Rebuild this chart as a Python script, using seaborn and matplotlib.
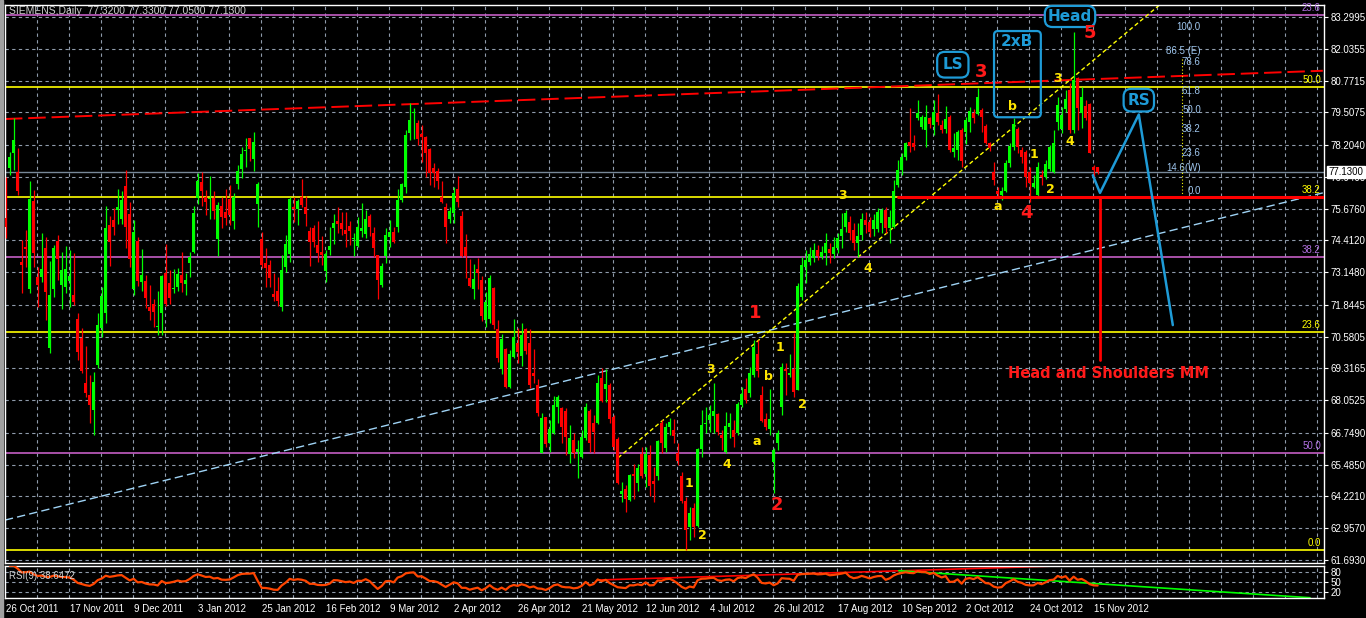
import numpy as np
import pandas as pd
import matplotlib
matplotlib.use('Agg')
import matplotlib.pyplot as plt
import seaborn as sns
from matplotlib.patches import FancyBboxPatch, Rectangle

# ── 1. Daily candles (SIEMENS, 26 Oct 2011 .. 16 Nov 2012) ──
opens = np.array([
    75.30, 77.30, 77.90, 77.14, 73.56, 74.14, 72.48, 75.98, 72.96, 72.96,
    74.10, 70.12, 72.48, 74.38, 72.64, 72.56, 72.80, 72.24, 71.28, 70.52,
    68.74, 68.26, 67.66, 69.46, 70.92, 71.52, 75.02, 75.22, 75.62, 75.26,
    76.58, 75.46, 72.48, 74.38, 72.76, 72.80, 71.76, 71.88, 70.96, 71.52,
    73.12, 72.72, 72.48, 72.56, 73.04, 72.68, 73.52, 73.96, 76.10, 76.74,
    76.14, 76.06, 76.10, 74.46, 75.78, 75.54, 76.06, 75.18, 76.66, 77.26,
    77.98, 78.48, 77.66, 75.86, 74.46, 73.52, 73.44, 72.28, 72.40, 71.76,
    73.36, 73.88, 75.74, 75.66, 76.14, 75.74, 74.78, 74.90, 74.22, 73.96,
    73.20, 74.02, 74.90, 75.18, 75.10, 74.82, 74.98, 74.46, 74.18, 74.78,
    74.66, 75.38, 74.70, 73.84, 72.64, 73.80, 74.54, 74.74, 74.94, 76.02,
    76.54, 78.68, 79.48, 79.08, 78.64, 78.52, 78.04, 77.30, 77.18, 76.14,
    75.74, 75.26, 75.50, 76.46, 75.38, 74.14, 72.92, 72.48, 73.28, 72.84,
    71.24, 71.28, 72.52, 70.88, 69.30, 70.08, 68.58, 69.78, 70.32, 69.82,
    70.88, 70.32, 69.14, 68.66, 65.96, 67.38, 66.34, 66.74, 67.78, 67.74,
    67.62, 65.92, 66.46, 66.00, 65.80, 66.54, 67.62, 67.14, 67.14, 68.94,
    68.50, 68.66, 67.38, 66.50, 64.32, 64.52, 64.08, 65.12, 64.76, 65.92,
    65.12, 65.88, 64.84, 65.04, 67.14, 66.14, 66.98, 66.86, 65.96, 65.04,
    64.04, 63.00, 63.76, 63.04, 66.12, 67.10, 67.26, 67.42, 67.50, 66.66,
    66.00, 66.98, 66.86, 66.74, 67.86, 68.50, 68.34, 69.06, 69.90, 68.26,
    67.30, 66.90, 65.60, 66.34, 67.78, 69.30, 69.06, 69.30, 68.46, 72.16,
    73.36, 73.56, 73.72, 74.04, 73.76, 73.92, 74.06, 73.88, 74.10, 74.58,
    74.94, 75.14, 74.82, 74.30, 74.62, 75.22, 75.14, 74.86, 74.86, 75.10,
    75.62, 74.90, 74.94, 76.62, 77.22, 77.74, 78.32, 78.28, 79.28, 78.92,
    78.80, 79.28, 79.00, 79.48, 79.00, 78.84, 79.32, 77.94, 78.02, 78.80,
    78.72, 79.12, 79.48, 79.44, 79.60, 78.96, 78.28, 77.14, 76.38, 76.22,
    76.38, 77.50, 78.12, 78.84, 78.00, 77.94, 77.14, 76.54, 76.22, 77.02,
    76.94, 77.26, 77.14, 79.12, 78.84, 79.64, 80.40, 78.80, 80.88, 79.48,
    79.76, 79.84, 77.34, 77.32])

highs = np.array([
    76.94, 77.94, 79.28, 78.08, 74.42, 74.82, 76.78, 76.42, 73.36, 74.70,
    74.54, 73.60, 74.22, 74.62, 73.96, 74.18, 74.04, 73.92, 71.52, 70.92,
    70.20, 69.06, 69.18, 71.52, 72.56, 75.78, 75.38, 75.70, 76.46, 76.38,
    77.22, 75.94, 75.22, 74.54, 74.06, 73.04, 72.64, 72.08, 72.40, 73.04,
    74.26, 73.24, 73.28, 73.32, 73.96, 73.12, 73.96, 75.78, 77.10, 77.14,
    76.42, 76.98, 76.38, 75.94, 76.14, 76.46, 76.62, 76.30, 77.42, 78.12,
    78.48, 78.48, 78.72, 76.74, 74.74, 74.10, 73.64, 73.12, 72.96, 73.84,
    74.62, 76.14, 76.14, 76.06, 76.86, 76.18, 74.94, 75.02, 75.18, 74.58,
    74.04, 74.94, 75.46, 75.74, 75.54, 75.54, 75.18, 74.70, 75.34, 75.90,
    75.62, 75.46, 74.94, 73.84, 73.52, 74.90, 75.22, 74.94, 76.46, 76.70,
    78.80, 79.88, 79.68, 79.20, 79.00, 78.56, 78.08, 77.50, 77.30, 76.78,
    75.90, 75.74, 76.54, 76.98, 75.58, 74.66, 73.68, 73.48, 73.72, 73.00,
    72.36, 73.04, 72.56, 71.24, 70.68, 70.12, 70.06, 71.28, 70.92, 71.12,
    70.92, 70.88, 70.08, 68.90, 67.54, 67.38, 67.26, 68.22, 68.26, 67.78,
    67.74, 67.06, 66.74, 66.46, 66.86, 67.94, 67.70, 67.46, 69.06, 69.34,
    69.30, 68.74, 67.46, 66.58, 64.80, 64.68, 65.12, 65.52, 65.52, 66.18,
    66.18, 66.26, 65.40, 66.46, 67.26, 67.14, 67.34, 67.30, 66.34, 65.20,
    64.20, 63.80, 63.96, 66.16, 67.66, 67.78, 67.86, 68.74, 67.54, 66.86,
    67.58, 67.54, 67.26, 67.98, 68.58, 68.94, 69.38, 70.44, 70.44, 68.62,
    67.54, 68.50, 66.16, 66.86, 69.54, 69.54, 69.90, 70.72, 72.72, 73.76,
    74.04, 74.16, 74.32, 74.24, 74.20, 74.70, 74.30, 74.54, 74.70, 75.50,
    75.62, 75.38, 75.10, 75.10, 75.50, 75.54, 75.34, 75.46, 75.70, 75.70,
    75.74, 75.62, 76.82, 77.62, 77.90, 78.32, 79.68, 78.60, 80.00, 79.40,
    79.80, 79.32, 80.00, 80.24, 79.20, 79.76, 79.40, 78.68, 78.80, 78.88,
    79.32, 79.72, 79.64, 80.48, 79.68, 79.04, 78.32, 77.54, 76.54, 76.54,
    77.62, 78.28, 79.28, 78.92, 78.12, 78.00, 77.34, 77.02, 77.54, 77.22,
    77.62, 78.20, 78.80, 80.12, 79.72, 80.40, 80.68, 82.72, 80.92, 80.52,
    80.00, 79.88, 77.42, 77.33])

lows = np.array([
    74.50, 77.02, 77.22, 76.22, 72.32, 73.36, 72.32, 73.36, 71.76, 72.76,
    71.24, 69.94, 72.16, 72.84, 71.68, 72.32, 71.76, 71.84, 69.66, 69.14,
    68.18, 67.14, 66.66, 69.34, 70.56, 71.12, 73.40, 74.62, 75.06, 75.06,
    74.10, 73.36, 72.24, 72.60, 72.40, 71.72, 71.24, 70.96, 70.64, 70.64,
    71.80, 71.88, 72.32, 72.40, 72.36, 72.24, 72.96, 73.92, 75.86, 75.78,
    75.42, 75.26, 75.26, 73.80, 74.90, 75.02, 75.02, 74.86, 76.46, 76.90,
    77.34, 77.58, 77.18, 74.94, 73.32, 72.56, 72.56, 72.00, 71.80, 71.60,
    73.16, 73.56, 75.14, 75.02, 75.74, 74.98, 73.40, 74.14, 73.56, 73.44,
    72.76, 73.84, 74.26, 74.70, 74.62, 74.14, 74.22, 73.80, 74.14, 74.54,
    74.50, 74.58, 73.76, 72.08, 72.56, 73.52, 74.14, 74.30, 74.74, 75.94,
    76.30, 78.40, 78.44, 78.20, 77.54, 76.94, 76.62, 76.54, 76.46, 75.90,
    74.30, 75.10, 75.10, 75.74, 73.76, 72.92, 72.56, 72.08, 72.48, 71.20,
    70.96, 71.12, 70.88, 69.58, 69.10, 68.54, 68.54, 69.74, 69.54, 69.42,
    69.90, 68.54, 68.74, 67.42, 65.96, 66.18, 65.98, 66.70, 67.14, 66.34,
    65.88, 65.56, 65.76, 64.96, 65.76, 66.46, 66.00, 65.96, 67.10, 67.98,
    67.98, 67.14, 66.08, 64.72, 64.00, 63.60, 64.04, 64.12, 64.44, 64.96,
    64.60, 64.24, 64.00, 64.88, 65.96, 66.00, 66.66, 66.34, 65.48, 63.96,
    62.08, 62.48, 62.60, 63.00, 65.80, 66.74, 66.78, 66.74, 66.66, 66.06,
    65.96, 66.54, 66.18, 66.66, 67.78, 67.94, 68.18, 68.98, 68.98, 67.18,
    66.86, 66.66, 64.36, 66.08, 67.46, 68.26, 68.98, 68.18, 68.46, 72.04,
    72.72, 73.44, 73.56, 73.64, 73.68, 73.44, 73.52, 73.72, 73.92, 74.10,
    74.74, 74.42, 74.02, 73.76, 74.42, 74.70, 74.54, 74.58, 74.74, 74.70,
    74.70, 74.30, 74.90, 76.54, 77.02, 77.62, 77.94, 78.00, 79.20, 78.84,
    78.12, 78.88, 78.60, 79.00, 78.68, 78.68, 77.94, 77.74, 77.62, 77.34,
    78.24, 78.72, 79.08, 79.40, 78.72, 78.24, 77.98, 76.62, 76.18, 76.02,
    76.34, 77.34, 78.00, 77.90, 77.50, 76.54, 75.94, 76.50, 76.14, 76.62,
    76.86, 77.18, 77.10, 78.80, 78.68, 79.52, 78.68, 78.68, 78.80, 78.88,
    79.20, 77.88, 76.94, 77.05])

closes = np.array([
    74.94, 77.74, 78.40, 76.38, 73.44, 74.06, 76.06, 73.92, 72.64, 73.28,
    72.36, 72.24, 74.10, 73.68, 73.24, 73.28, 73.00, 71.96, 69.98, 69.22,
    68.34, 67.86, 68.78, 71.04, 72.20, 74.90, 74.34, 74.94, 75.74, 76.02,
    74.94, 73.68, 74.74, 72.80, 73.04, 72.12, 71.60, 71.56, 71.00, 73.00,
    71.88, 72.12, 72.52, 73.08, 72.72, 72.84, 73.76, 75.50, 76.78, 76.38,
    75.94, 76.10, 75.58, 75.82, 75.34, 75.30, 75.42, 76.14, 77.18, 77.86,
    78.02, 78.04, 78.32, 76.66, 73.44, 73.32, 72.92, 72.16, 72.00, 73.24,
    74.26, 76.06, 75.66, 75.98, 75.82, 75.46, 74.34, 74.34, 73.92, 73.84,
    73.88, 74.18, 75.10, 75.06, 74.86, 74.66, 74.78, 74.50, 74.94, 74.90,
    75.26, 74.94, 74.10, 72.84, 73.40, 74.62, 74.74, 74.34, 76.02, 76.66,
    78.60, 79.20, 79.52, 78.44, 78.52, 77.90, 77.10, 77.10, 76.78, 75.94,
    74.94, 75.58, 76.30, 75.94, 73.80, 73.80, 72.60, 72.88, 73.12, 71.40,
    71.96, 72.92, 71.04, 69.74, 70.48, 68.58, 69.90, 70.56, 69.98, 70.64,
    70.00, 68.66, 69.02, 67.54, 67.34, 66.30, 66.90, 67.86, 68.18, 66.98,
    66.58, 66.54, 65.96, 66.10, 66.58, 67.78, 66.34, 66.78, 68.74, 68.02,
    68.70, 67.30, 66.18, 64.76, 64.44, 64.12, 65.08, 65.04, 65.36, 65.04,
    65.92, 64.64, 64.72, 66.42, 66.34, 66.98, 67.18, 66.62, 65.64, 64.04,
    62.88, 63.56, 63.00, 66.12, 67.06, 67.14, 67.46, 67.62, 66.78, 66.54,
    67.02, 67.14, 66.58, 67.90, 68.30, 68.06, 69.14, 70.16, 69.22, 67.22,
    66.98, 67.30, 66.08, 66.74, 69.38, 69.22, 69.14, 68.38, 72.60, 73.44,
    73.64, 73.88, 74.04, 73.80, 73.96, 74.30, 73.92, 74.14, 74.50, 74.86,
    75.50, 74.70, 74.30, 74.58, 75.26, 75.02, 74.74, 75.22, 75.54, 75.62,
    74.90, 75.34, 76.38, 77.22, 77.74, 78.28, 78.16, 78.12, 79.48, 79.32,
    79.32, 79.04, 79.52, 79.12, 78.80, 79.24, 78.02, 78.10, 78.72, 77.58,
    79.20, 79.56, 79.28, 80.12, 79.32, 78.28, 78.10, 76.82, 76.26, 76.38,
    77.50, 78.16, 79.04, 78.14, 77.74, 76.94, 76.70, 76.70, 77.34, 76.94,
    77.46, 78.12, 78.28, 79.80, 79.40, 80.04, 78.80, 80.80, 79.68, 80.12,
    79.28, 77.90, 77.22, 77.13])

date_labels = ['26 Oct 2011', '17 Nov 2011', '9 Dec 2011', '3 Jan 2012', '25 Jan 2012',
               '16 Feb 2012', '9 Mar 2012', '2 Apr 2012', '26 Apr 2012', '21 May 2012',
               '12 Jun 2012', '4 Jul 2012', '26 Jul 2012', '17 Aug 2012', '10 Sep 2012',
               '2 Oct 2012', '24 Oct 2012', '15 Nov 2012']
price_ticks = [83.2995, 82.0355, 80.7715, 79.5075, 78.2040, 76.9400, 75.6760, 74.4120,
               73.1480, 71.8445, 70.5805, 69.3165, 68.0525, 66.7490, 65.4850, 64.2210,
               62.9570, 61.6930]
rsi_levels = [80, 50, 20]

# fibonacci retracements drawn on the chart
fib_purple = [83.38, 73.76, 65.96]
fib_purple_lbl = ['23.6', '38.2', '50.0']
fib_yellow = [80.52, 76.14, 70.76, 62.08]
fib_yellow_lbl = ['50.0', '38.2', '23.6', '0.0']
fibx_lbl = ['100.0', '86.5 (E)', '78.6', '61.8', '50.0', '38.2', '23.6', '14.6(W)', '0.0']
fibx_val = [82.92, 81.96, 81.52, 80.36, 79.60, 78.84, 77.90, 77.30, 76.38]

# ── 2. Style / figure ──────────────────────────────────────
sns.set_style('dark', {'axes.facecolor': 'black', 'figure.facecolor': 'black'})
plt.rcParams['font.family'] = ['Liberation Sans', 'DejaVu Sans']

W, H = 1366, 618
fig = plt.figure(figsize=(W / 100, H / 100), dpi=100)
fig.patch.set_facecolor('black')


def px_axes(x0, y0, x1, y1):
    return fig.add_axes([x0 / W, 1 - y1 / H, (x1 - x0) / W, (y1 - y0) / H])


ax = px_axes(5, 5, 1324, 563.3)
axr = px_axes(5, 565.7, 1324, 598.3)
fig.patches.append(Rectangle((0, 0), 3 / W, 1, transform=fig.transFigure,
                             color='#a0a0a0', zorder=0))

grid_c = '#8f9bab'
blue = '#1e9bd7'
n = len(closes)
idx = np.arange(n)
xlim = (-0.175, 329.6)

for a in (ax, axr):
    a.set_facecolor('black')
    for s in a.spines.values():
        s.set_color('white')
        s.set_linewidth(1)
    for b in range(8, 330, 8):
        a.axvline(b - 0.1, color=grid_c, lw=0.8, ls=(0, (3, 3)), zorder=0)
    a.set_xlim(*xlim)

# ── 3. Price panel ─────────────────────────────────────────
for v in price_ticks:
    ax.axhline(v, color=grid_c, lw=0.8, ls=(0, (3, 3)), zorder=0)

for v, t in zip(fib_purple, fib_purple_lbl):
    ax.axhline(v, color='#c45ec4', lw=1.2, zorder=1)
    ax.text(328.8, v + 0.08, t, color='#b070e0', fontsize=7, ha='right', va='bottom')
for v, t in zip(fib_yellow, fib_yellow_lbl):
    ax.axhline(v, color='#ffff00', lw=1.2, zorder=1)
    ax.text(328.8, v + 0.08, t, color='#ffff00', fontsize=7, ha='right', va='bottom')
ax.axhline(closes[-1], color='#778899', lw=1, zorder=1)

# trend lines
ax.plot([-0.2, 329.3], [79.24, 81.16], color='red', lw=1.4, ls=(0, (9, 3)), zorder=1)
ax.plot([-0.2, 329.3], [63.28, 76.30], color='#9fd3f5', lw=1, ls=(0, (6, 3)), zorder=1)
ax.plot([153.1, 290], [65.76, 83.98], color='#ffff00', lw=1, ls=(0, (3, 2)), zorder=1)

# candles
up = closes >= opens
col = np.where(up, '#00ff00', '#ff0000')
ax.vlines(idx, lows, highs, colors=col, lw=0.9, zorder=3)
ax.bar(idx, np.maximum(np.abs(closes - opens), 0.03), bottom=np.minimum(opens, closes),
       width=0.72, color=col, lw=0, zorder=3)

# head & shoulders drawing
ax.plot([223, 329.6], [76.15, 76.15], color='red', lw=2.2, zorder=4)
ax.plot([273.6, 273.6], [76.15, 69.66], color='red', lw=2, zorder=4)
ax.plot([271.8, 273.6, 283.3, 291.8], [77.0, 76.30, 79.42, 71.04], color=blue, lw=1.8, zorder=4)
ax.plot([294.1, 294.1], [81.62, 76.14], color='#ffff00', lw=0.8, ls=(0, (1, 2)), zorder=2)
for t, v in zip(fibx_lbl, fibx_val):
    ax.text(298.8, v, t, color='#9ec6ee', fontsize=7, ha='right', va='center', zorder=5)

box_kw = dict(boxstyle='round,pad=0.35,rounding_size=0.5', fc='black', ec=blue, lw=1.6)
lbl_kw = dict(color=blue, fontsize=11, fontweight='bold', ha='center', va='center',
              family='DejaVu Sans', zorder=6)
ax.text(236.8, 81.40, 'LS', bbox=box_kw, **lbl_kw)
ax.text(266.1, 83.32, 'Head', bbox=dict(box_kw, boxstyle='round,pad=0.2,rounding_size=0.5'), **lbl_kw)
ax.text(283.3, 79.99, 'RS', bbox=dict(box_kw, boxstyle='round,pad=0.25,rounding_size=0.5'), **lbl_kw)
ax.add_patch(FancyBboxPatch((247.1, 79.31), 11.7, 3.43, boxstyle='round,pad=0,rounding_size=1',
                            mutation_aspect=0.16, fc='none', ec=blue, lw=1.6, zorder=6))
ax.text(252.8, 82.31, '2xB', **lbl_kw)

red_kw = dict(color='#ff1a1a', fontsize=13, fontweight='bold', ha='center', va='center',
              family='DejaVu Sans', zorder=6)
for t, xx, yy in [('3', 243.8, 81.11), ('5', 271.1, 82.66), ('4', 255.3, 75.50),
                  ('1', 187.3, 71.52), ('2', 192.8, 63.88)]:
    ax.text(xx, yy, t, **red_kw)

yel_kw = dict(color='#ffe600', fontsize=9, fontweight='bold', ha='center', va='center',
              family='DejaVu Sans', zorder=6)
for t, xx, yy in [('3', 262.9, 80.87), ('b', 251.8, 79.72), ('a', 248.1, 75.74),
                  ('1', 257.1, 77.81), ('2', 261.1, 76.42), ('4', 266.1, 78.33),
                  ('3', 209.3, 76.18), ('4', 215.6, 73.31), ('3', 176.1, 69.29),
                  ('1', 193.6, 70.13), ('b', 190.6, 69.01), ('a', 187.8, 66.39),
                  ('2', 199.1, 67.90), ('4', 180.3, 65.51), ('1', 170.8, 64.72),
                  ('2', 174.3, 62.65)]:
    ax.text(xx, yy, t, **yel_kw)

ax.text(275.6, 69.13, 'Head and Shoulders MM', color='#ff1a1a', fontsize=10.5,
        fontweight='bold', ha='center', va='center', family='DejaVu Sans', zorder=6)

ax.set_ylim(61.562, 83.776)
ax.yaxis.tick_right()
ax.set_yticks(price_ticks)
ax.set_yticklabels([f'{v:.4f}' for v in price_ticks])
ax.tick_params(axis='y', colors='white', labelsize=7, length=3, pad=1.5, width=0.8)
ax.tick_params(axis='x', length=0, labelbottom=False)
ax.annotate(f'{closes[-1]:.4f}', xy=(1.0, closes[-1]), xycoords=ax.get_yaxis_transform(),
            xytext=(3, 0), textcoords='offset points', ha='left', va='center',
            fontsize=7, color='black',
            bbox=dict(boxstyle='square,pad=0.15', fc='white', ec='white'), annotation_clip=False)

fig.text(9 / W, 1 - 11 / H, 'SIEMENS,Daily  77.3200 77.3300 77.0500 77.1300',
         color='#d0d0d0', fontsize=7.5, va='center')

# ── 4. RSI(9) panel ────────────────────────────────────────
delta = pd.Series(closes).diff()
gain = delta.clip(lower=0).ewm(alpha=1 / 9, adjust=False).mean()
loss = (-delta.clip(upper=0)).ewm(alpha=1 / 9, adjust=False).mean()
rsi = 100 - 100 / (1 + gain / loss)

for lv in rsi_levels:
    axr.axhline(lv, color=grid_c, lw=0.8, ls=(0, (3, 3)), zorder=0)
sns.lineplot(x=idx[1:], y=rsi.values[1:], ax=axr, color='#ff4500', lw=1.6, zorder=3)
axr.plot([148.1, 262.6], [56.1, 99.1], color='red', lw=1.2, zorder=2)
axr.plot([223.3, 326.1], [84.7, 1.8], color='#00ff00', lw=1.2, zorder=2)
axr.set_ylim(0, 100)
axr.set_ylabel('')
axr.yaxis.tick_right()
axr.set_yticks(rsi_levels)
axr.set_yticklabels([str(v) for v in rsi_levels])
axr.tick_params(axis='y', colors='white', labelsize=7, length=3, pad=1.5, width=0.8)
axr.set_xticks(range(0, 273, 16))
axr.set_xticklabels(date_labels)
axr.tick_params(axis='x', colors='white', labelsize=7, length=3, pad=1, width=0.8)
for lab in axr.get_xticklabels():
    lab.set_ha('left')
fig.text(9 / W, 1 - 576 / H, 'RSI(9) 38.6472', color='#d0d0d0', fontsize=7, va='center')

plt.savefig('out.png', dpi=100, facecolor='black')
plt.close()
